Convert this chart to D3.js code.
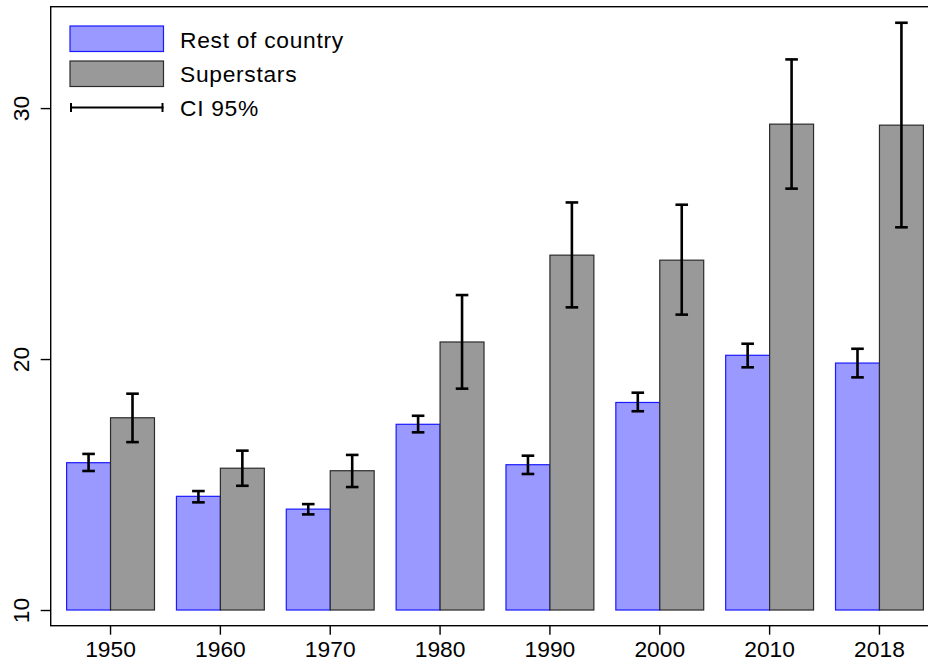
<!DOCTYPE html>
<html>
<head>
<meta charset="utf-8">
<script src="https://cdn.jsdelivr.net/npm/d3@7"></script>
<style>
  body { margin: 0; background: #fff; }
  text { font-family: "Liberation Sans", Arial, sans-serif; }
</style>
</head>
<body>
<div id="chart"></div>
<script>
// values
var years = ["1950", "1960", "1970", "1980", "1990", "2000", "2010", "2018"];
var restValues = [15.87, 14.53, 14.02, 17.40, 15.79, 18.27, 20.15, 19.84];
var restLow = [15.54, 14.29, 13.81, 17.08, 15.42, 17.92, 19.67, 19.27];
var restHigh = [16.22, 14.74, 14.22, 17.74, 16.15, 18.66, 20.61, 20.41];
var starValues = [17.66, 15.65, 15.55, 20.68, 24.14, 23.94, 29.36, 29.32];
var starLow = [16.69, 14.95, 14.90, 18.82, 22.06, 21.77, 26.79, 25.25];
var starHigh = [18.62, 16.35, 16.18, 22.55, 26.24, 26.15, 31.94, 33.40];
var yTicks = [10, 20, 30];
var seriesNames = ["Rest of country", "Superstars"];
var ciLabel = "CI 95%";
var baseValue = 10;

var svgWidth = 928;
var svgHeight = 663;

var plot = { left: 50.7, right: 929, top: 6.7, bottom: 625.7 };

var svg = d3.select("#chart")
  .append("svg")
  .attr("width", svgWidth)
  .attr("height", svgHeight);

var xScale = d3.scaleBand()
  .domain(years)
  .range([66.6, 923.4])
  .paddingInner(0.2)
  .paddingOuter(0);

var xSub = d3.scaleBand()
  .domain(seriesNames)
  .range([0, xScale.bandwidth()]);

var yScale = d3.scaleLinear()
  .domain([9.375, 34.04])
  .range([plot.bottom, plot.top]);

var rows = years.map(function(y, i) {
  return [
    { year: y, series: seriesNames[0], v: restValues[i], lo: restLow[i], hi: restHigh[i] },
    { year: y, series: seriesNames[1], v: starValues[i], lo: starLow[i], hi: starHigh[i] }
  ];
});
var flat = rows[0].concat.apply([], rows);

var fills = { "Rest of country": "#9999ff", "Superstars": "#999999" };
var strokes = { "Rest of country": "#1a1aff", "Superstars": "#2b2b2b" };

// blue bars first, then gray on top
seriesNames.forEach(function(s) {
  svg.append("g").selectAll("rect")
    .data(flat.filter(d => d.series === s))
    .enter()
    .append("rect")
    .attr("x", d => xScale(d.year) + xSub(d.series))
    .attr("width", xSub.bandwidth())
    .attr("y", d => yScale(d.v))
    .attr("height", d => yScale(baseValue) - yScale(d.v))
    .attr("fill", fills[s])
    .attr("stroke", strokes[s])
    .attr("stroke-width", 1.2);
});

// error bars
var capW = 6.3;
var errG = svg.append("g")
  .attr("stroke", "#000")
  .attr("stroke-width", 2.6);

errG.selectAll("line.v").data(flat).enter()
  .append("line")
  .attr("class", "v")
  .attr("x1", d => xScale(d.year) + xSub(d.series) + xSub.bandwidth() / 2)
  .attr("x2", d => xScale(d.year) + xSub(d.series) + xSub.bandwidth() / 2)
  .attr("y1", d => yScale(d.lo))
  .attr("y2", d => yScale(d.hi));

["lo", "hi"].forEach(function(k) {
  errG.selectAll("line." + k).data(flat).enter()
    .append("line")
    .attr("class", k)
    .attr("x1", d => xScale(d.year) + xSub(d.series) + xSub.bandwidth() / 2 - capW)
    .attr("x2", d => xScale(d.year) + xSub(d.series) + xSub.bandwidth() / 2 + capW)
    .attr("y1", d => yScale(d[k]))
    .attr("y2", d => yScale(d[k]));
});

// plot frame
svg.append("rect")
  .attr("x", plot.left)
  .attr("y", plot.top)
  .attr("width", plot.right - plot.left)
  .attr("height", plot.bottom - plot.top)
  .attr("fill", "none")
  .attr("stroke", "#000")
  .attr("stroke-width", 1.4);

// axes
var leftAxis = d3.axisLeft(yScale).tickValues(yTicks).tickSize(10).tickPadding(0).tickFormat(d3.format("d"));
var bottomAxis = d3.axisBottom(xScale).tickSize(9).tickPadding(6);

var yAxisG = svg.append("g")
  .attr("transform", `translate(${plot.left},0)`)
  .call(leftAxis);
yAxisG.select(".domain").remove();
yAxisG.selectAll("line").attr("stroke-width", 1.4);
yAxisG.selectAll("text")
  .attr("x", null)
  .attr("dy", null)
  .attr("transform", "translate(-22,0) rotate(-90)")
  .attr("text-anchor", "middle")
  .attr("font-size", "22.8px")
  .attr("font-family", "'Liberation Sans', Arial, sans-serif")
  .attr("fill", "#000");

var xAxisG = svg.append("g")
  .attr("transform", `translate(0,${plot.bottom})`)
  .call(bottomAxis);
xAxisG.select(".domain").remove();
xAxisG.selectAll("line").attr("stroke-width", 1.4);
xAxisG.selectAll("text")
  .attr("font-size", "22.8px")
  .attr("font-family", "'Liberation Sans', Arial, sans-serif")
  .attr("fill", "#000");

// legend
var legendText = [21.5, 55.5, 89.7];
var legend = svg.append("g").attr("transform", "translate(70,26)");
seriesNames.forEach(function(s, i) {
  legend.append("rect")
    .attr("x", 0)
    .attr("y", i * 35)
    .attr("width", 93.5)
    .attr("height", 25.5)
    .attr("fill", fills[s])
    .attr("stroke", strokes[s])
    .attr("stroke-width", 1.2);
  legend.append("text")
    .attr("x", 110)
    .attr("y", legendText[i])
    .attr("font-size", "22.8px")
    .attr("letter-spacing", "0.7px")
    .attr("fill", "#000")
    .text(s);
});
var ciG = legend.append("g")
  .attr("stroke", "#000")
  .attr("stroke-width", 2);
ciG.append("line").attr("x1", 0).attr("x2", 93.5).attr("y1", 81.5).attr("y2", 81.5);
ciG.append("line").attr("x1", 1).attr("x2", 1).attr("y1", 77).attr("y2", 86);
ciG.append("line").attr("x1", 92.5).attr("x2", 92.5).attr("y1", 77).attr("y2", 86);
legend.append("text")
  .attr("x", 110)
  .attr("y", legendText[2])
  .attr("font-size", "22.8px")
  .attr("letter-spacing", "0.7px")
  .attr("fill", "#000")
  .text(ciLabel);
</script>
</body>
</html>
